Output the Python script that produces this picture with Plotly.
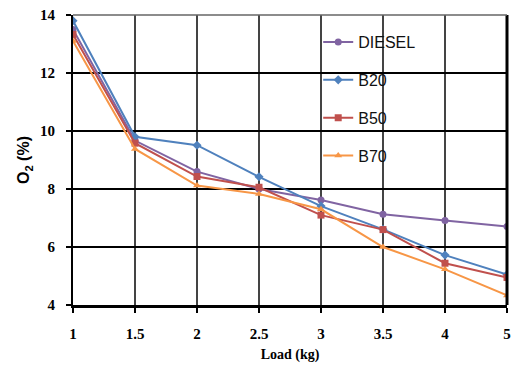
import plotly.graph_objects as go

loads = ["1", "1.5", "2", "2.5", "3", "3.5", "4", "5"]
diesel = [13.5, 9.67, 8.6, 8.0, 7.62, 7.13, 6.91, 6.71]
b20 = [13.8, 9.8, 9.51, 8.42, 7.41, 6.61, 5.72, 5.05]
b50 = [13.33, 9.58, 8.43, 8.06, 7.1, 6.6, 5.44, 4.95]
b70 = [13.1, 9.38, 8.12, 7.83, 7.3, 6.0, 5.23, 4.33]
yticks = [4, 6, 8, 10, 12, 14]

series = [
    ("DIESEL", diesel, "#8064A2", "circle"),
    ("B20", b20, "#4F81BD", "diamond"),
    ("B50", b50, "#C0504D", "square"),
    ("B70", b70, "#F79646", "triangle-up"),
]

fig = go.Figure()
for name, vals, col, sym in series:
    fig.add_trace(go.Scatter(
        x=loads, y=vals, name=name, mode="lines+markers",
        legendgroup=name,
        line=dict(color=col, width=2),
        marker=dict(color=col, symbol=sym, size=7),
    ))

fig.update_layout(
    width=514, height=371,
    margin=dict(l=73, r=3, t=15, b=66),
    plot_bgcolor="white", paper_bgcolor="white",
    font=dict(family="Liberation Sans", color="black"),
    showlegend=True,
    legend=dict(x=0.565, y=0.965, xanchor="left", yanchor="top",
                bgcolor="rgba(255,255,255,0)", tracegroupgap=14,
                itemwidth=30,
                font=dict(size=16, family="Liberation Sans Narrow, Liberation Sans", color="#111")),
    xaxis=dict(
        type="category", range=[0, 7],
        showgrid=True, gridcolor="#444", gridwidth=1.5,
        showline=True, linecolor="black", linewidth=3, mirror=False,
        ticks="outside", ticklen=5, tickwidth=2, tickcolor="black",
        ticklabelstandoff=8,
        tickfont=dict(size=15, family="Liberation Serif", weight="bold"),
        title=dict(text="Load (kg)", font=dict(size=14, family="Liberation Serif", weight="bold"), standoff=9),
    ),
    yaxis=dict(
        range=[4, 14], tickvals=yticks,
        showgrid=True, gridcolor="black", gridwidth=2,
        showline=True, linecolor="black", linewidth=2,
        ticks="outside", ticklen=5, tickwidth=2, tickcolor="black",
        ticklabelstandoff=8,
        tickfont=dict(size=15, family="Liberation Serif", weight="bold"),
        title=dict(text="O<sub>2</sub> (%)", font=dict(size=16, family="Liberation Sans", weight="bold"), standoff=6),
    ),
)
# right and top borders
fig.add_shape(type="line", xref="paper", yref="paper", x0=1, x1=1, y0=0, y1=1,
              line=dict(color="black", width=3))
fig.add_shape(type="line", xref="paper", yref="paper", x0=0, x1=1, y0=1, y1=1,
              line=dict(color="#666", width=1.5))

fig.write_html("out.html")
